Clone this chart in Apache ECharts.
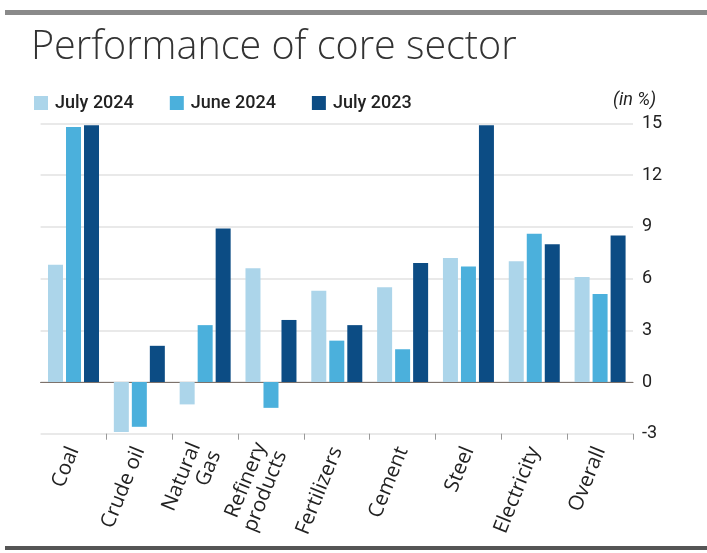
<!DOCTYPE html>
<html><head><meta charset="utf-8">
<script src="https://cdn.jsdelivr.net/npm/echarts@6/dist/echarts.min.js"></script>
<style>html,body{margin:0;padding:0;background:#fff}#c{width:707px;height:553px}</style>
</head><body><div id="c"></div>
<script>
const categories = ['Coal','Crude oil','Natural\nGas','Refinery\nproducts','Fertilizers','Cement','Steel','Electricity','Overall'];
const seriesNames = ['July 2024','June 2024','July 2023'];
const july2024 = [6.8,-2.9,-1.3,6.6,5.3,5.5,7.2,7.0,6.1];
const june2024 = [14.8,-2.6,3.3,-1.5,2.4,1.9,6.7,8.6,5.1];
const july2023 = [14.9,2.1,8.9,3.6,3.3,6.9,14.9,8.0,8.5];
const colors = ['#acd5ea','#4bb0dc','#0c4c84'];
const yMin = -3, yMax = 15, yStep = 3;

const chart = echarts.init(document.getElementById('c'), null, {renderer:'canvas'});
const cond = 'Roboto,sans-serif';
const mk = (name, data, i) => ({
  name, type:'bar', data, barWidth:15, barGap:'20%',
  itemStyle:{color:colors[i]}, xAxisIndex:0
});
chart.setOption({
  animation:false,
  title:{text:'Performance of core sector', left:31, top:28, padding:0,
    textStyle:{fontFamily:'"Open Sans",sans-serif', fontWeight:300, fontSize:39.5, color:'#333'}},
  legend:{left:34, top:94, padding:0, icon:'rect', itemWidth:14, itemHeight:14, itemGap:36,
    textStyle:{fontFamily:cond, fontWeight:500, fontSize:18, color:'#222', padding:[0,0,0,2]},
    data:seriesNames},
  grid:{left:40.6, right:74, top:123.5, bottom:119.3},
  xAxis:[{
    type:'category', data:categories, position:'bottom',
    axisLine:{show:false, onZero:false},
    axisTick:{show:true, length:6, lineStyle:{color:'#999'}, interval:function(i){return i>0;}},
    axisLabel:{rotate:68, margin:14, fontFamily:'"Open Sans",sans-serif', fontSize:20.5, color:'#222', interval:0, lineHeight:22}
  },{
    type:'category', data:categories, position:'bottom',
    axisLine:{show:true, onZero:true, onZeroAxisIndex:0, lineStyle:{color:'#7d726b', width:1.2}},
    axisTick:{show:false}, axisLabel:{show:false}
  }],
  yAxis:{type:'value', position:'right', min:yMin, max:yMax, interval:yStep,
    axisLine:{show:false}, axisTick:{show:false},
    splitLine:{lineStyle:{color:'#e2e2e2', width:1.5}},
    axisLabel:{margin:9, fontFamily:cond, fontSize:18, color:'#222', align:'left', padding:[8,0,0,0]}},
  series:[mk(seriesNames[0], july2024, 0), mk(seriesNames[1], june2024, 1), mk(seriesNames[2], july2023, 2)],
  graphic:[
    {type:'rect', shape:{x:5, y:10, width:702, height:5}, style:{fill:'#8a8a8a'}},
    {type:'rect', shape:{x:5, y:546, width:702, height:4}, style:{fill:'#555'}},
    {type:'text', left:613, top:91, style:{text:'(in %)', font:'italic 18px Roboto, sans-serif', fill:'#222'}}
  ]
});
</script></body></html>
